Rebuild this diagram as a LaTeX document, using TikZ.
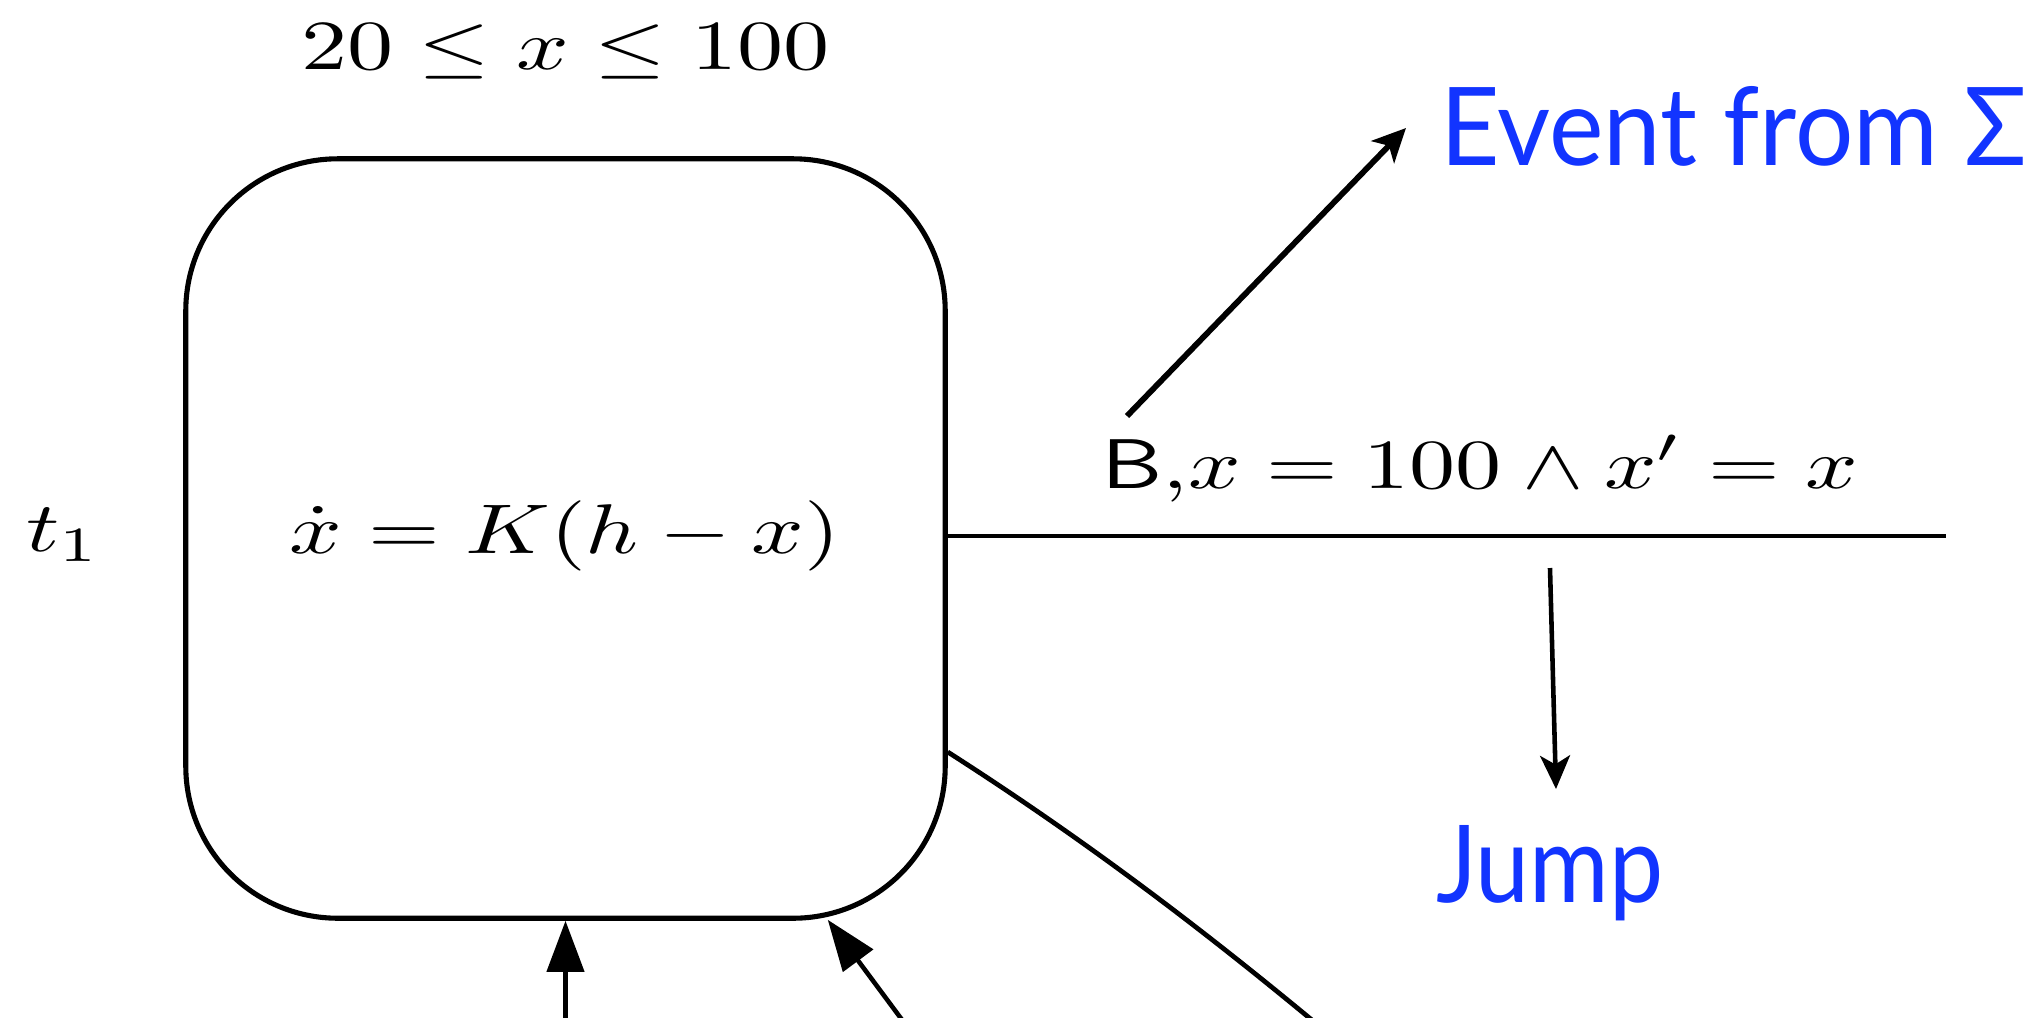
\documentclass[tikz,border=0pt]{standalone}
\usepackage{graphicx}
\usepackage{fontspec}
\newfontfamily\gillfont{Lato}
\usetikzlibrary{arrows.meta}
\definecolor{evblue}{RGB}{18,52,255}
\begin{document}
\begin{tikzpicture}[x=0.01cm,y=-0.01cm,
  mathlbl/.style={inner sep=0pt, outer sep=0pt},
  bluelbl/.style={inner sep=0pt, outer sep=0pt, text=evblue, font=\gillfont},
  locbox/.style={draw, line width=1.45pt, rounded corners=1.52cm, minimum width=7.59cm, minimum height=7.59cm, inner sep=0pt},
  edgeline/.style={line width=1.35pt},
  evarrow/.style={line width=1.65pt, -{Stealth[length=9.5pt,width=9pt,inset=2.5pt]}},
  jarrow/.style={line width=1.3pt, -{Stealth[length=9.5pt,width=8.5pt,inset=2.5pt]}},
  botarrow/.style={line width=1.3pt, -{Triangle[length=14.5pt,width=10.5pt]}}]
\useasboundingbox (0,0) rectangle (2044,1017);

% location box
\node[locbox] (loc) at (565.5,538.5) {};

% texts
\node[mathlbl, anchor=base] (inv) at (565.5,69) {\scalebox{2.62}[2]{$20\leq x\leq 100$}};
\node[mathlbl, anchor=base] (flow) at (565,553) {\scalebox{2.62}[2]{$\dot{x}=K(h-x)$}};
\node[mathlbl, anchor=base west] (name) at (26,551) {\scalebox{2.62}[2]{$t_1$}};
\node[mathlbl, anchor=base west] (guard) at (1101,488) {\scalebox{2.62}[2]{\textsf{B},$x=100\wedge x'=x$}};
\node[bluelbl, anchor=base west] (event) at (1440,165) {\resizebox{5.87cm}{0.79cm}{Event from Σ}};
\node[bluelbl, anchor=base west] (jump) at (1436,902) {\resizebox{2.27cm}{0.77cm}{Jump}};

% transition line
\coordinate (lineend) at (1946,536);
\draw[edgeline] (loc.east |- lineend) -- (lineend);

% pointer arrows
\coordinate (evtail) at (1127,416);
\coordinate (evtip) at (1406,128);
\draw[evarrow] (evtail) -- (evtip);
\coordinate (jtail) at (1550,568);
\coordinate (jtip) at (1556,789);
\draw[jarrow] (jtail) -- (jtip);

% outgoing curve
\coordinate (cend) at (1330,1035);
\draw[edgeline] ([shift={(0,213.5)}]loc.east) .. controls (1090,843) and (1210,935) .. (cend);

% incoming arrows
\coordinate (uptail) at (565.5,1040);
\draw[botarrow] (uptail) -- (loc.south);
\coordinate (dtail) at (917,1040);
\draw[botarrow] (dtail) -- ([shift={(-120,-1)}]loc.south east);
\end{tikzpicture}
\end{document}
